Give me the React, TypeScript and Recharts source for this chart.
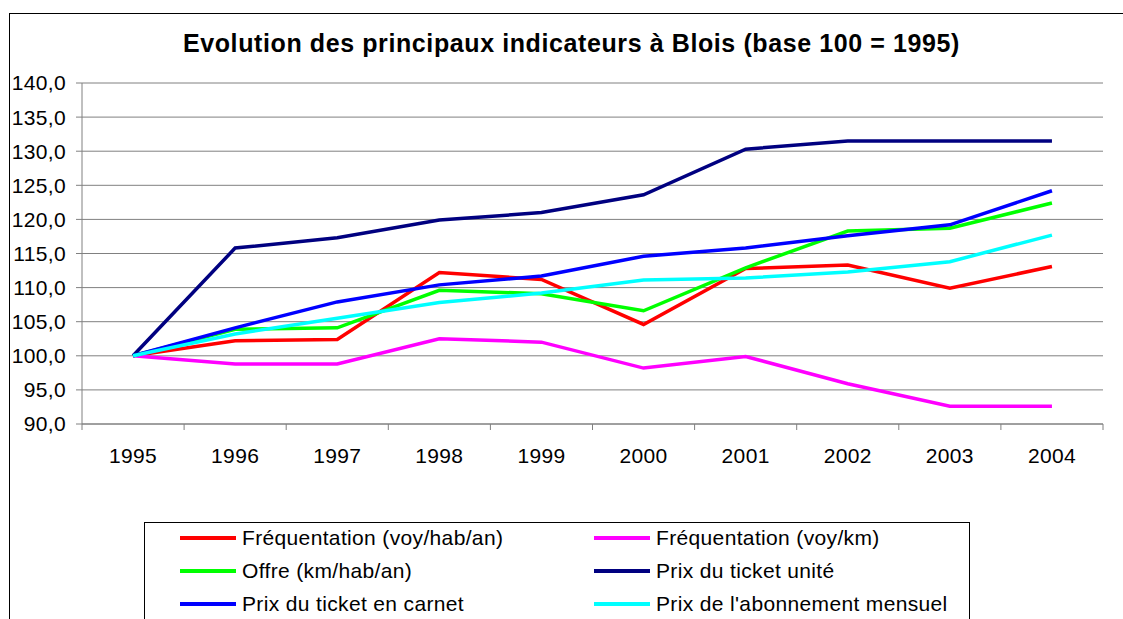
import { LineChart, Line, XAxis, YAxis, CartesianGrid } from 'recharts'

const years = ['1995', '1996', '1997', '1998', '1999', '2000', '2001', '2002', '2003', '2004']
const freqHab = [100, 102.2, 102.4, 112.2, 111.2, 104.6, 112.8, 113.3, 109.9, 113.1]
const freqKm = [100, 98.8, 98.8, 102.5, 102.0, 98.2, 99.9, 95.9, 92.6, 92.6]
const offre = [100, 103.9, 104.1, 109.6, 109.1, 106.6, 112.9, 118.3, 118.7, 122.4]
const ticketUnite = [100, 115.8, 117.3, 119.9, 121.0, 123.6, 130.3, 131.5, 131.5, 131.5]
const ticketCarnet = [100, 104.1, 107.9, 110.4, 111.7, 114.6, 115.8, 117.6, 119.2, 124.2]
const abonnement = [100, 103.2, 105.5, 107.8, 109.2, 111.1, 111.4, 112.3, 113.8, 117.7]
const yTicks = [90, 95, 100, 105, 110, 115, 120, 125, 130, 135, 140]

const series = [
  { key: 'freqHab', name: 'Fréquentation (voy/hab/an)', color: '#FF0000', values: freqHab },
  { key: 'freqKm', name: 'Fréquentation (voy/km)', color: '#FF00FF', values: freqKm },
  { key: 'offre', name: 'Offre (km/hab/an)', color: '#00FF00', values: offre },
  { key: 'ticketUnite', name: 'Prix du ticket unité', color: '#000080', values: ticketUnite },
  { key: 'ticketCarnet', name: 'Prix du ticket en carnet', color: '#0000FF', values: ticketCarnet },
  { key: 'abonnement', name: "Prix de l'abonnement mensuel", color: '#00FFFF', values: abonnement },
]

const data = years.map((year, i) => {
  const row: Record<string, number | string> = { i, year }
  series.forEach((s) => { row[s.key] = s.values[i] })
  return row
})

// ticks at band centres (labels) and band edges (tick marks)
const xTicks: number[] = []
for (let i = 0; i <= years.length * 2; i++) xTicks.push(i / 2 - 0.5)

const font = '"Liberation Sans", Arial, sans-serif'
const fmt = (v: number) => v.toFixed(1).replace('.', ',')

const XTick = (props: any) => {
  const { x, y, payload } = props
  const v = payload.value as number
  if (Number.isInteger(v)) {
    return (
      <text x={x} y={y + 39} textAnchor="middle" fontSize={21} fill="#000" fontFamily={font} style={{ letterSpacing: 0.35 }}>
        {years[v]}
      </text>
    )
  }
  return <line x1={x} y1={y} x2={x} y2={y + 6} stroke="#808080" strokeWidth={1} />
}

export default function App() {
  return (
    <div style={{ position: 'fixed', left: 0, top: 0, width: 1123, height: 619, overflow: 'hidden', background: '#fff', fontFamily: font }}>
      <div style={{ position: 'absolute', left: 9, top: 13, width: 1300, height: 800, border: '1px solid #000', boxSizing: 'border-box' }} />
      <div style={{ position: 'absolute', left: 0, width: 1143, top: 29, textAlign: 'center', fontSize: 25, letterSpacing: 0.6, fontWeight: 'bold', color: '#000' }}>
        Evolution des principaux indicateurs à Blois (base 100 = 1995)
      </div>
      <div style={{ position: 'absolute', left: 0, top: 0 }}>
        <LineChart width={1123} height={619} data={data} margin={{ top: 83, right: 20, bottom: 165, left: 0 }}>
          <CartesianGrid vertical={false} stroke="#808080" xAxisId="x" />
          <XAxis
            xAxisId="x"
            type="number"
            dataKey="i"
            domain={[-0.5, 9.5]}
            ticks={xTicks}
            interval={0}
            tickSize={0}
            tickMargin={0}
            tickLine={false}
            axisLine={{ stroke: '#808080' }}
            tick={<XTick />}
            height={30}
          />
          <YAxis
            domain={[90, 140]}
            ticks={yTicks}
            interval={0}
            width={82}
            tickSize={6}
            tickMargin={10}
            tickFormatter={fmt}
            axisLine={{ stroke: '#808080' }}
            tickLine={{ stroke: '#808080' }}
            tick={{ fill: '#000', fontSize: 21, fontFamily: font, style: { letterSpacing: 0.35 } }}
          />
          {series.map((s) => (
            <Line
              key={s.key}
              xAxisId="x"
              type="linear"
              dataKey={s.key}
              name={s.name}
              stroke={s.color}
              strokeWidth={3.5}
              dot={false}
              isAnimationActive={false}
            />
          ))}
        </LineChart>
      </div>
      <div style={{ position: 'absolute', left: 144, top: 522, width: 826, height: 200, border: '1px solid #000', boxSizing: 'border-box' }}>
        {series.map((s, i) => {
          const col = i % 2
          const row = Math.floor(i / 2)
          return (
            <div key={s.key} style={{ position: 'absolute', left: 35 + col * 414, top: 2 + row * 33, height: 26, display: 'flex', alignItems: 'center', whiteSpace: 'nowrap' }}>
              <div style={{ width: 56, height: 4, background: s.color, marginRight: 6 }} />
              <span style={{ fontSize: 21, letterSpacing: 0.35, color: '#000' }}>{s.name}</span>
            </div>
          )
        })}
      </div>
    </div>
  )
}
